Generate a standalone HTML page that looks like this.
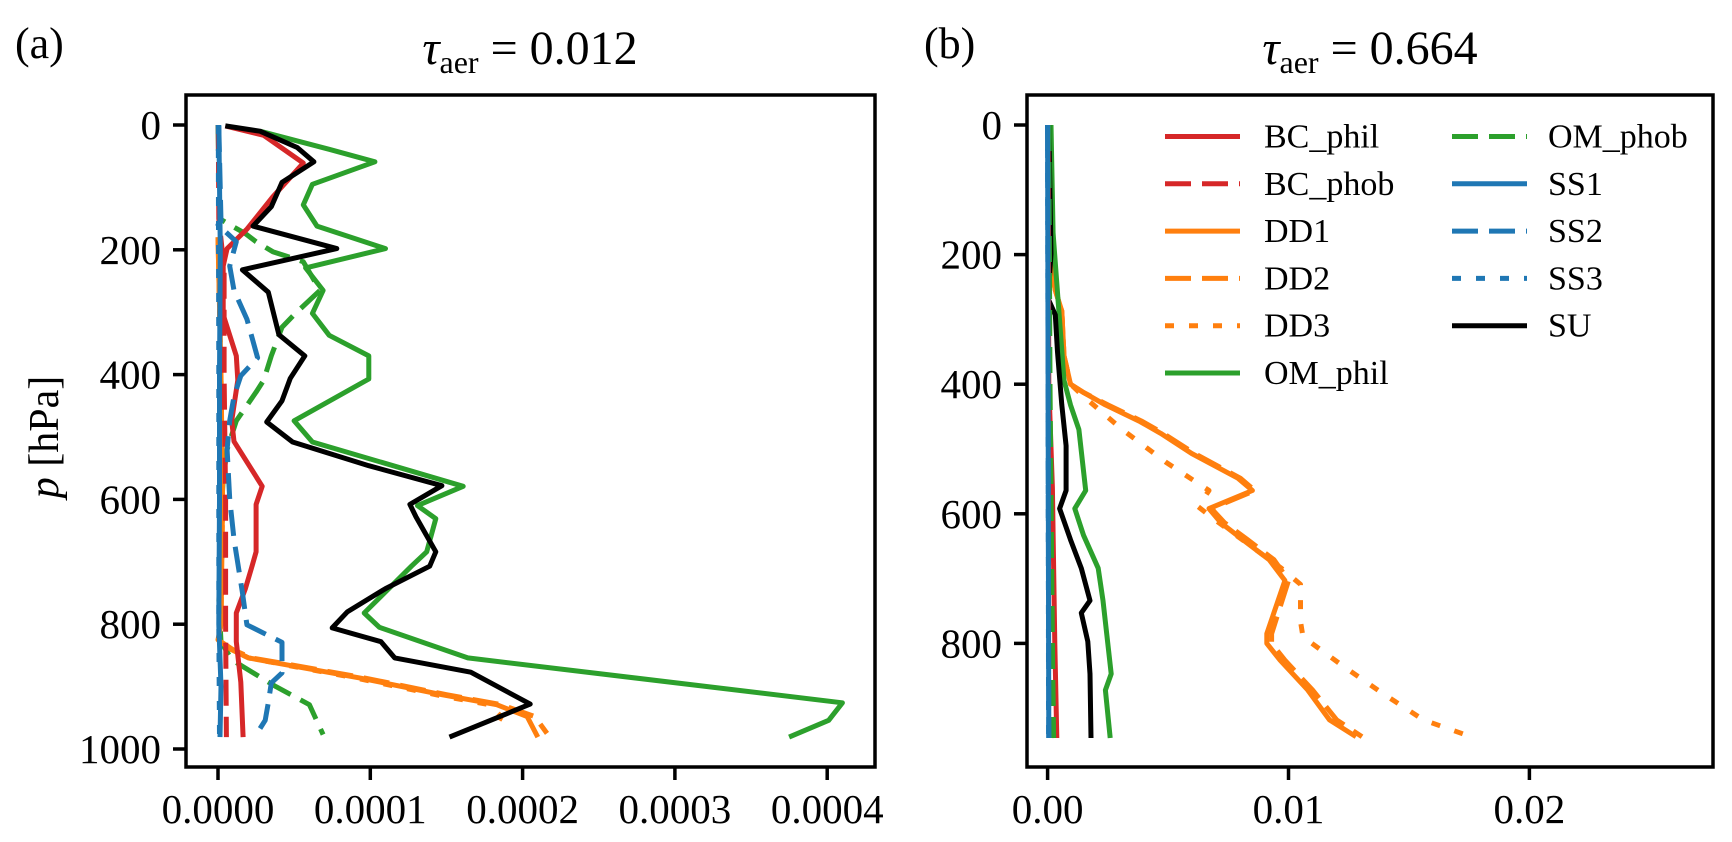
<!DOCTYPE html>
<html><head><meta charset="utf-8"><style>
html,body{margin:0;padding:0;background:#fff;}
svg{display:block;font-family:"Liberation Serif","DejaVu Serif",serif;}
</style></head><body>
<svg id="chart" width="1732" height="842" viewBox="0 0 1732 842" xmlns="http://www.w3.org/2000/svg">
<text x="15" y="58" font-size="44">(a)</text>
<text x="924" y="58" font-size="44">(b)</text>
<text x="530" y="64" font-size="48" text-anchor="middle"><tspan font-style="italic">τ</tspan><tspan font-size="32" dy="9">aer</tspan><tspan dy="-9"> = 0.012</tspan></text>
<text x="1370" y="64" font-size="48" text-anchor="middle"><tspan font-style="italic">τ</tspan><tspan font-size="32" dy="9">aer</tspan><tspan dy="-9"> = 0.664</tspan></text>
<text transform="translate(58,437) rotate(-90)" font-size="42" text-anchor="middle"><tspan font-style="italic">p</tspan> [hPa]</text>
<g id="pa"></g>
<g id="pb"></g>
<g id="legend"></g>
</svg>
<script>
// ---- Panel A data (values in units of 1e-5) ----
const aOMphilP=[10,39,59,95,128,162,198,229,265,302,337,370,407,474,508,579,610,631,684,707,782,805,854,926,954,981];
const aOMphilV=[2.76,7.3,10.3,6.2,5.6,6.5,11.0,5.75,6.9,6.2,7.3,9.9,9.9,5.0,6.2,16.1,13.1,14.3,13.7,12.7,9.6,10.6,16.4,41,40.1,37.5];
const aSUP=[1.5,10,36,59,92,131,162,198,232,268,336,370,406,442,476,508,546,578,608,628,684,707,743,780,806,828,854,877,928,981];
const aSUV=[0.48,2.76,5.2,6.3,4.2,3.5,2.3,7.8,1.6,3.3,4.0,5.7,4.75,4.2,3.2,4.9,9.9,14.7,12.6,13.0,14.3,13.9,11.0,8.5,7.5,10.7,11.6,16.6,20.5,15.2];
const aBCphilP=[1.5,16.5,61,115,167,198,226,304,370,409,474,507,579,608,684,710,743,782,828,893,981];
const aBCphilV=[0.48,3.0,5.6,3.6,1.9,0.6,0.34,0.34,1.2,1.3,0.9,1.05,2.9,2.5,2.5,2.2,1.8,1.2,1.2,1.5,1.65];
const aBCphobP=[0,150,230,400,600,800,981];
const aBCphobV=[0.02,0.05,0.4,0.4,0.5,0.5,0.55];
const aSS1P=[0,200,400,600,800,900,981];
const aSS1V=[0.05,0.15,0.1,0.1,0.05,0.2,0.13];
const aSS2P=[1.5,154,160,187,226,265,311,373,402,435,474,520,599,664,749,801,829,878,894,926,954,981];
const aSS2V=[0.05,0.2,0.0,1.2,0.77,1.05,1.9,2.6,1.5,1.05,0.77,0.6,0.77,1.05,1.6,1.9,4.2,4.2,3.5,3.3,3.1,2.4];
const aSS3P=[0,400,800,981];
const aSS3V=[0.02,0.05,0.05,0.1];
const aOMphobP=[0,150,159,174,187,203,219,265,304,324,370,409,428,474,520,566,631,762,828,857,900,929,977];
const aOMphobV=[0,0.1,0.71,1.8,2.5,3.6,5.6,6.7,5.0,4.2,3.5,3.0,2.5,1.2,0.6,0.34,0.2,0.06,0.2,0.9,3.8,6.0,6.9];
const aDD1P=[180,400,600,800,825,841,854,865,886,913,929,948,981];
const aDD1V=[0,0.2,0.3,0.2,0,0.9,2.0,4.5,9.3,14.7,18.3,20.3,21.0];
const aDD2P=[180,400,600,800,825,841,854,865,886,913,929,948,975];
const aDD2V=[0,0.2,0.3,0.2,0,1.0,2.2,4.8,9.6,15.0,18.6,20.8,21.6];
const aDD3P=[180,400,600,800,825,841,854,865,886,913,929,948,961];
const aDD3V=[0,0.2,0.3,0.2,0,0.9,2.0,4.4,9.0,14.3,17.8,18.6,18.3];
const aXTicks=[0,10,20,30,40];
const aXLabels=["0.0000","0.0001","0.0002","0.0003","0.0004"];
const aYTicks=[0,200,400,600,800,1000];
// ---- Panel B data (values in units of 1e-3) ----
const bDD1P=[0,217,255,287,356,400,413,432,457,476,507,545,564,592,614,640,671,703,785,800,826,872,918,944];
const bDD1V=[0,0.14,0.32,0.59,0.68,0.95,1.5,2.4,3.8,4.7,5.98,7.9,8.5,6.7,7.2,8.1,9.2,9.85,9.1,9.1,9.65,10.8,11.7,12.8];
const bDD2P=[0,217,255,287,356,400,413,432,457,476,507,545,564,592,614,640,671,703,785,800,826,872,918,944];
const bDD2V=[0,0.14,0.32,0.59,0.68,0.95,1.5,2.5,3.9,4.8,6.1,8.0,8.6,6.8,7.35,8.3,9.4,10.0,9.3,9.3,9.85,11.0,12.0,13.05];
const bDD3P=[0,217,255,287,356,400,419,470,520,564,589,608,646,684,709,766,790,836,877,918,943];
const bDD3V=[0,0.14,0.32,0.59,0.68,0.95,1.5,3.1,4.9,6.7,6.25,6.9,8.3,9.7,10.5,10.5,10.6,12.3,13.9,15.6,17.5];
const bSUP=[0,199,268,293,350,432,495,564,592,640,684,734,753,797,847,946];
const bSUV=[0.05,0.14,0.02,0.32,0.41,0.59,0.77,0.77,0.5,0.95,1.4,1.76,1.4,1.67,1.76,1.8];
const bOMphilP=[0,167,394,432,470,564,592,633,684,734,847,872,946];
const bOMphilV=[0.14,0.23,0.68,0.95,1.3,1.58,1.13,1.49,2.1,2.3,2.64,2.4,2.6];
const bBCphilP=[0,400,560,800,946];
const bBCphilV=[0.02,0.05,0.2,0.3,0.38];
const bBCphobP=[0,400,800,946];
const bBCphobV=[0.01,0.05,0.2,0.3];
const bOMphobP=[0,400,800,946];
const bOMphobV=[0.05,0.1,0.2,0.25];
const bSS1P=[0,400,946];
const bSS1V=[0,0.02,0.05];
const bSS2P=[0,400,946];
const bSS2V=[0,0.02,0.05];
const bSS3P=[0,400,946];
const bSS3V=[0,0.02,0.04];
const bXTicks=[0,10,20];
const bXLabels=["0.00","0.01","0.02"];
const bYTicks=[0,200,400,600,800];
const legendLabels=["BC_phil","BC_phob","DD1","DD2","DD3","OM_phil","OM_phob","SS1","SS2","SS3","SU"];

const NS="http://www.w3.org/2000/svg";
const C={red:"#d62728",orange:"#ff7f0e",green:"#2ca02c",blue:"#1f77b4",black:"#000000"};
const DASH={solid:"",dashed:"26 11",dotted:"9 15"};
function mk(tag,attrs,parent){const e=document.createElementNS(NS,tag);for(const k in attrs)e.setAttribute(k,attrs[k]);parent.appendChild(e);return e;}

function panel(g,box,xs,ys,xt,xl,yt,series){
  series.forEach(s=>{
    const d=s.p.map((p,i)=>(i?"L":"M")+xs(s.v[i]).toFixed(1)+","+ys(p).toFixed(1)).join(" ");
    const path=mk("path",{d:d,fill:"none",stroke:C[s.c],"stroke-width":5,"stroke-linejoin":"round","stroke-dasharray":DASH[s.st]},g);
    
    
  });
  const fr=mk("rect",{x:box[0],y:box[1],width:box[2]-box[0],height:box[3]-box[1],fill:"none",stroke:"#000","stroke-width":3.5},g);
  
  
  xt.forEach((v,i)=>{
    const x=xs(v);
    const t=mk("line",{x1:x,x2:x,y1:box[3],y2:box[3]+13,stroke:"#000","stroke-width":3.5},g);
    
    
    const l=mk("text",{x:x,y:823,"font-size":41,"text-anchor":"middle"},g);
    l.textContent=xl[i];
    
    
  });
  yt.forEach(p=>{
    const y=ys(p);
    const t=mk("line",{x1:box[0]-13,x2:box[0],y1:y,y2:y,stroke:"#000","stroke-width":3.5},g);
    
    
    const l=mk("text",{x:box[0]-25,y:y+14,"font-size":41,"text-anchor":"end"},g);
    l.textContent=String(p);
    
    
  });
}
const axs=v=>218+v*15.23, ays=p=>125+p*0.624;
panel(document.getElementById("pa"),[186,95,875,767],axs,ays,aXTicks,aXLabels,aYTicks,[
 {name:"om-phil",p:aOMphilP,v:aOMphilV,c:"green",st:"solid"},
 {name:"om-phob",p:aOMphobP,v:aOMphobV,c:"green",st:"dashed"},
 {name:"dd1",p:aDD1P,v:aDD1V,c:"orange",st:"solid"},
 {name:"dd2",p:aDD2P,v:aDD2V,c:"orange",st:"dashed"},
 {name:"dd3",p:aDD3P,v:aDD3V,c:"orange",st:"dotted"},
 {name:"bc-phil",p:aBCphilP,v:aBCphilV,c:"red",st:"solid"},
 {name:"bc-phob",p:aBCphobP,v:aBCphobV,c:"red",st:"dashed"},
 {name:"ss2",p:aSS2P,v:aSS2V,c:"blue",st:"dashed"},
 {name:"ss3",p:aSS3P,v:aSS3V,c:"blue",st:"dotted"},
 {name:"ss1",p:aSS1P,v:aSS1V,c:"blue",st:"solid"},
 {name:"su",p:aSUP,v:aSUV,c:"black",st:"solid"}]);
const bxs=v=>1047.6+v*24.09, bys=p=>125+p*0.648;
panel(document.getElementById("pb"),[1027,95,1713,767],bxs,bys,bXTicks,bXLabels,bYTicks,[
 {name:"dd3",p:bDD3P,v:bDD3V,c:"orange",st:"dotted"},
 {name:"dd2",p:bDD2P,v:bDD2V,c:"orange",st:"dashed"},
 {name:"dd1",p:bDD1P,v:bDD1V,c:"orange",st:"solid"},
 {name:"om-phil",p:bOMphilP,v:bOMphilV,c:"green",st:"solid"},
 {name:"su",p:bSUP,v:bSUV,c:"black",st:"solid"},
 {name:"bc-phil",p:bBCphilP,v:bBCphilV,c:"red",st:"solid"},
 {name:"bc-phob",p:bBCphobP,v:bBCphobV,c:"red",st:"dashed"},
 {name:"om-phob",p:bOMphobP,v:bOMphobV,c:"green",st:"dashed"},
 {name:"ss1",p:bSS1P,v:bSS1V,c:"blue",st:"solid"},
 {name:"ss2",p:bSS2P,v:bSS2V,c:"blue",st:"dashed"},
 {name:"ss3",p:bSS3P,v:bSS3V,c:"blue",st:"dotted"}]);
const lg=document.getElementById("legend");
const lc=["red","red","orange","orange","orange","green","green","blue","blue","blue","black"];
const ls=["solid","dashed","solid","dashed","dotted","solid","dashed","solid","dashed","dotted","solid"];
legendLabels.forEach((lab,i)=>{
  const col=i<6?0:1, row=i<6?i:i-6;
  const x0=col?1452:1165, tx=col?1548:1264, y=136.5+row*47.3;
  const ln=mk("line",{x1:x0,x2:x0+75,y1:y,y2:y,stroke:C[lc[i]],"stroke-width":5,"stroke-dasharray":DASH[ls[i]]},lg);
  
  
  const t=mk("text",{x:tx,y:y+11,"font-size":34},lg);
  t.textContent=lab;
  
  
});
</script>
</body></html>
